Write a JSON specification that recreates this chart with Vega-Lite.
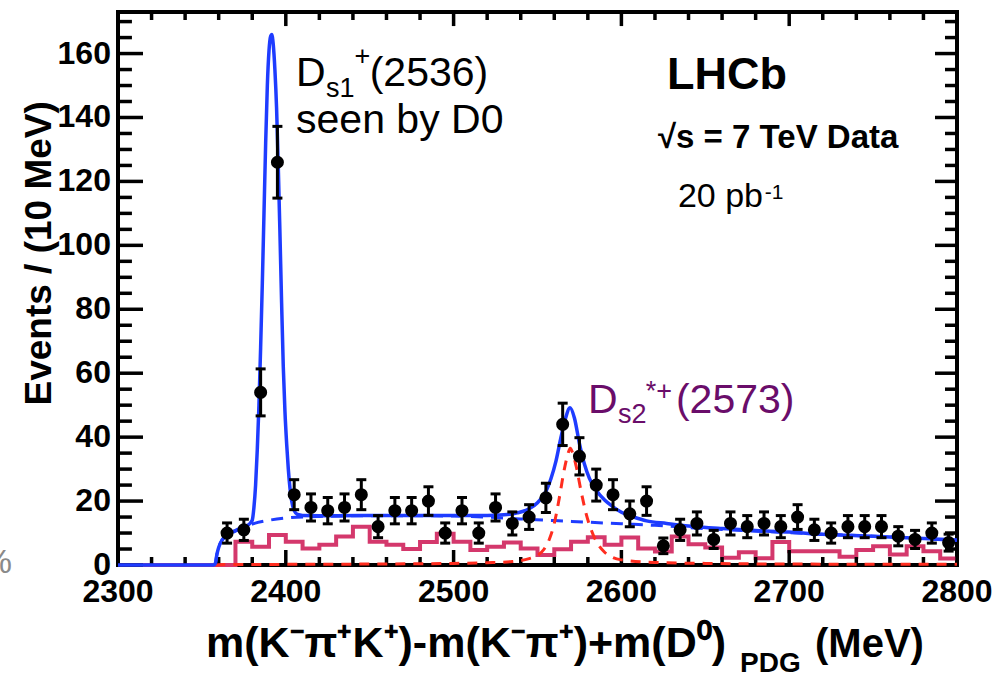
{
  "$schema": "https://vega.github.io/schema/vega-lite/v6.json",
  "width": 839,
  "height": 553,
  "autosize": {"type": "none"},
  "padding": {"left": 118, "top": 12, "right": 50, "bottom": 108},
  "background": "white",
  "config": {
    "view": {"stroke": "black", "strokeWidth": 4},
    "font": "Liberation Sans",
    "text": {"font": "Liberation Sans", "align": "left", "baseline": "alphabetic"}
  },
  "datasets": {
    "xmajor": [{"t": 2300}, {"t": 2400}, {"t": 2500}, {"t": 2600}, {"t": 2700}, {"t": 2800}],
    "xminor": [
      {"t": 2320}, {"t": 2340}, {"t": 2360}, {"t": 2380}, {"t": 2420}, {"t": 2440}, {"t": 2460},
      {"t": 2480}, {"t": 2520}, {"t": 2540}, {"t": 2560}, {"t": 2580}, {"t": 2620}, {"t": 2640},
      {"t": 2660}, {"t": 2680}, {"t": 2720}, {"t": 2740}, {"t": 2760}, {"t": 2780}
    ],
    "ymajor": [{"t": 0}, {"t": 20}, {"t": 40}, {"t": 60}, {"t": 80}, {"t": 100}, {"t": 120}, {"t": 140}, {"t": 160}],
    "yminor": [
      {"t": 5}, {"t": 10}, {"t": 15}, {"t": 25}, {"t": 30}, {"t": 35}, {"t": 45}, {"t": 50}, {"t": 55},
      {"t": 65}, {"t": 70}, {"t": 75}, {"t": 85}, {"t": 90}, {"t": 95}, {"t": 105}, {"t": 110}, {"t": 115},
      {"t": 125}, {"t": 130}, {"t": 135}, {"t": 145}, {"t": 150}, {"t": 155}, {"t": 165}, {"t": 170}
    ],
    "points": [
      {"m": 2365, "n": 10, "lo": 6.84, "hi": 13.16},
      {"m": 2375, "n": 11, "lo": 7.68, "hi": 14.32},
      {"m": 2385, "n": 54, "lo": 46.65, "hi": 61.35},
      {"m": 2395, "n": 126, "lo": 114.78, "hi": 137.22},
      {"m": 2405, "n": 22, "lo": 17.31, "hi": 26.69},
      {"m": 2415, "n": 18, "lo": 13.76, "hi": 22.24},
      {"m": 2425, "n": 17, "lo": 12.88, "hi": 21.12},
      {"m": 2435, "n": 18, "lo": 13.76, "hi": 22.24},
      {"m": 2445, "n": 22, "lo": 17.31, "hi": 26.69},
      {"m": 2455, "n": 12, "lo": 8.54, "hi": 15.46},
      {"m": 2465, "n": 17, "lo": 12.88, "hi": 21.12},
      {"m": 2475, "n": 17, "lo": 12.88, "hi": 21.12},
      {"m": 2485, "n": 20, "lo": 15.53, "hi": 24.47},
      {"m": 2495, "n": 10, "lo": 6.84, "hi": 13.16},
      {"m": 2505, "n": 17, "lo": 12.88, "hi": 21.12},
      {"m": 2515, "n": 10, "lo": 6.84, "hi": 13.16},
      {"m": 2525, "n": 18, "lo": 13.76, "hi": 22.24},
      {"m": 2535, "n": 13, "lo": 9.39, "hi": 16.61},
      {"m": 2545, "n": 15, "lo": 11.13, "hi": 18.87},
      {"m": 2555, "n": 21, "lo": 16.42, "hi": 25.58},
      {"m": 2565, "n": 44, "lo": 37.37, "hi": 50.63},
      {"m": 2575, "n": 34, "lo": 28.17, "hi": 39.83},
      {"m": 2585, "n": 25, "lo": 20.0, "hi": 30.0},
      {"m": 2595, "n": 22, "lo": 17.31, "hi": 26.69},
      {"m": 2605, "n": 16, "lo": 12.0, "hi": 20.0},
      {"m": 2615, "n": 20, "lo": 15.53, "hi": 24.47},
      {"m": 2625, "n": 6, "lo": 3.55, "hi": 8.45},
      {"m": 2635, "n": 11, "lo": 7.68, "hi": 14.32},
      {"m": 2645, "n": 13, "lo": 9.39, "hi": 16.61},
      {"m": 2655, "n": 8, "lo": 5.17, "hi": 10.83},
      {"m": 2665, "n": 13, "lo": 9.39, "hi": 16.61},
      {"m": 2675, "n": 12, "lo": 8.54, "hi": 15.46},
      {"m": 2685, "n": 13, "lo": 9.39, "hi": 16.61},
      {"m": 2695, "n": 12, "lo": 8.54, "hi": 15.46},
      {"m": 2705, "n": 15, "lo": 11.13, "hi": 18.87},
      {"m": 2715, "n": 11, "lo": 7.68, "hi": 14.32},
      {"m": 2725, "n": 10, "lo": 6.84, "hi": 13.16},
      {"m": 2735, "n": 12, "lo": 8.54, "hi": 15.46},
      {"m": 2745, "n": 12, "lo": 8.54, "hi": 15.46},
      {"m": 2755, "n": 12, "lo": 8.54, "hi": 15.46},
      {"m": 2765, "n": 9, "lo": 6.0, "hi": 12.0},
      {"m": 2775, "n": 8, "lo": 5.17, "hi": 10.83},
      {"m": 2785, "n": 10, "lo": 6.84, "hi": 13.16},
      {"m": 2795, "n": 7, "lo": 4.35, "hi": 9.65}
    ],
    "hist": [
      {"m": 2300, "v": 0}, {"m": 2310, "v": 0}, {"m": 2320, "v": 0}, {"m": 2330, "v": 0},
      {"m": 2340, "v": 0}, {"m": 2350, "v": 0}, {"m": 2360, "v": 0}, {"m": 2370, "v": 7.3},
      {"m": 2380, "v": 5.7}, {"m": 2390, "v": 9.4}, {"m": 2400, "v": 7.3}, {"m": 2410, "v": 5.2},
      {"m": 2420, "v": 6.3}, {"m": 2430, "v": 8.9}, {"m": 2440, "v": 12}, {"m": 2450, "v": 7.3},
      {"m": 2460, "v": 6.3}, {"m": 2470, "v": 5.0}, {"m": 2480, "v": 7.2}, {"m": 2490, "v": 9.8},
      {"m": 2500, "v": 7.3}, {"m": 2510, "v": 4.7}, {"m": 2520, "v": 5.7}, {"m": 2530, "v": 7.0},
      {"m": 2540, "v": 5.2}, {"m": 2550, "v": 3.1}, {"m": 2560, "v": 4.9}, {"m": 2570, "v": 7.3},
      {"m": 2580, "v": 8.7}, {"m": 2590, "v": 6.3}, {"m": 2600, "v": 8.6}, {"m": 2610, "v": 5.2},
      {"m": 2620, "v": 4.2}, {"m": 2630, "v": 8.9}, {"m": 2640, "v": 6.5}, {"m": 2650, "v": 5.5},
      {"m": 2660, "v": 2.3}, {"m": 2670, "v": 4.0}, {"m": 2680, "v": 2.1}, {"m": 2690, "v": 7.2},
      {"m": 2700, "v": 4.3}, {"m": 2710, "v": 4.3}, {"m": 2720, "v": 4.3}, {"m": 2730, "v": 2.6},
      {"m": 2740, "v": 4.7}, {"m": 2750, "v": 5.9}, {"m": 2760, "v": 3.3}, {"m": 2770, "v": 5.9},
      {"m": 2780, "v": 4.3}, {"m": 2790, "v": 2.0}, {"m": 2800, "v": 2.0}
    ],
    "background": [
      {"m": 2358, "v": 0}, {"m": 2359, "v": 3.5}, {"m": 2360, "v": 5.5}, {"m": 2362, "v": 7.8},
      {"m": 2365, "v": 9.2}, {"m": 2370, "v": 10.6}, {"m": 2375, "v": 11.8}, {"m": 2380, "v": 12.8},
      {"m": 2390, "v": 14.0}, {"m": 2400, "v": 14.7}, {"m": 2420, "v": 15.2}, {"m": 2450, "v": 15.4},
      {"m": 2480, "v": 15.4}, {"m": 2500, "v": 15.3}, {"m": 2520, "v": 15.0}, {"m": 2540, "v": 14.4},
      {"m": 2560, "v": 13.9}, {"m": 2580, "v": 13.4}, {"m": 2600, "v": 12.9}, {"m": 2620, "v": 12.4},
      {"m": 2650, "v": 11.4}, {"m": 2700, "v": 10.1}, {"m": 2750, "v": 9.0}, {"m": 2800, "v": 7.7}
    ],
    "signal": [
      {"m": 2358, "v": 0}, {"m": 2360, "v": 0.1}, {"m": 2400, "v": 0.2}, {"m": 2450, "v": 0.3},
      {"m": 2500, "v": 0.5}, {"m": 2520, "v": 0.7}, {"m": 2535, "v": 1.1}, {"m": 2545, "v": 2},
      {"m": 2550, "v": 3}, {"m": 2554, "v": 5}, {"m": 2557, "v": 8}, {"m": 2560, "v": 13},
      {"m": 2563, "v": 21}, {"m": 2566, "v": 30}, {"m": 2568, "v": 34.5}, {"m": 2569.5, "v": 36.5},
      {"m": 2571, "v": 35}, {"m": 2573, "v": 31}, {"m": 2576, "v": 23}, {"m": 2579, "v": 16},
      {"m": 2582, "v": 11}, {"m": 2586, "v": 6.5}, {"m": 2590, "v": 4}, {"m": 2595, "v": 2.3},
      {"m": 2600, "v": 1.6}, {"m": 2620, "v": 0.8}, {"m": 2650, "v": 0.5}, {"m": 2700, "v": 0.3},
      {"m": 2800, "v": 0.2}
    ],
    "total": [
      {"m": 2300, "v": 0}, {"m": 2357, "v": 0}, {"m": 2358, "v": 0.5}, {"m": 2359, "v": 3.5},
      {"m": 2360, "v": 5.5}, {"m": 2362, "v": 7.8}, {"m": 2365, "v": 9.3}, {"m": 2370, "v": 10.8},
      {"m": 2375, "v": 11.9}, {"m": 2378, "v": 12.7}, {"m": 2380, "v": 14}, {"m": 2381, "v": 18},
      {"m": 2382, "v": 25}, {"m": 2383, "v": 36}, {"m": 2384, "v": 50}, {"m": 2385, "v": 68},
      {"m": 2386, "v": 88}, {"m": 2387, "v": 110}, {"m": 2388, "v": 132}, {"m": 2389, "v": 150},
      {"m": 2390, "v": 161}, {"m": 2391, "v": 165.5}, {"m": 2391.6, "v": 166}, {"m": 2392.5, "v": 163},
      {"m": 2393.5, "v": 155}, {"m": 2394.5, "v": 143}, {"m": 2395.5, "v": 125}, {"m": 2396.5, "v": 104},
      {"m": 2397.5, "v": 82}, {"m": 2398.5, "v": 62}, {"m": 2399.5, "v": 48}, {"m": 2400.5, "v": 38},
      {"m": 2401.5, "v": 30}, {"m": 2402.5, "v": 24}, {"m": 2403.5, "v": 20}, {"m": 2405, "v": 17},
      {"m": 2407, "v": 15.8}, {"m": 2410, "v": 15.5}, {"m": 2430, "v": 15.4}, {"m": 2460, "v": 15.5},
      {"m": 2500, "v": 15.5}, {"m": 2520, "v": 15.5}, {"m": 2530, "v": 15.7}, {"m": 2538, "v": 16.3},
      {"m": 2545, "v": 17.6}, {"m": 2550, "v": 19.5}, {"m": 2555, "v": 23}, {"m": 2558, "v": 27},
      {"m": 2561, "v": 32.5}, {"m": 2564, "v": 40}, {"m": 2566.5, "v": 45.5}, {"m": 2569.4, "v": 49.2},
      {"m": 2572, "v": 46}, {"m": 2575, "v": 38}, {"m": 2578, "v": 31.5}, {"m": 2581, "v": 27},
      {"m": 2585, "v": 23.4}, {"m": 2590, "v": 20.3}, {"m": 2595, "v": 18.2}, {"m": 2600, "v": 16.5},
      {"m": 2607, "v": 15.1}, {"m": 2615, "v": 13.8}, {"m": 2627, "v": 13}, {"m": 2640, "v": 12.2},
      {"m": 2660, "v": 11.4}, {"m": 2680, "v": 10.8}, {"m": 2700, "v": 10.3}, {"m": 2720, "v": 9.6},
      {"m": 2750, "v": 9.0}, {"m": 2780, "v": 8.3}, {"m": 2800, "v": 7.8}
    ]
  },
  "layer": [
    {
      "data": {"name": "hist"},
      "mark": {"type": "line", "interpolate": "step-after", "color": "#d4386c", "strokeWidth": 4},
      "encoding": {
        "x": {"field": "m", "type": "quantitative", "scale": {"domain": [2300, 2800], "nice": false}, "axis": null},
        "y": {"field": "v", "type": "quantitative", "scale": {"domain": [0, 173], "nice": false, "zero": false}, "axis": null}
      }
    },
    {
      "data": {"name": "xmajor"},
      "mark": {"type": "rule", "color": "black", "strokeWidth": 3.5},
      "encoding": {
        "x": {"field": "t", "type": "quantitative", "axis": null},
        "y": {"datum": 0, "type": "quantitative", "axis": null},
        "y2": {"datum": 4.7}
      }
    },
    {
      "data": {"name": "xminor"},
      "mark": {"type": "rule", "color": "black", "strokeWidth": 3.5},
      "encoding": {
        "x": {"field": "t", "type": "quantitative", "axis": null},
        "y": {"datum": 0, "type": "quantitative", "axis": null},
        "y2": {"datum": 2.5}
      }
    },
    {
      "data": {"name": "xmajor"},
      "mark": {"type": "rule", "color": "black", "strokeWidth": 3.5},
      "encoding": {
        "x": {"field": "t", "type": "quantitative", "axis": null},
        "y": {"datum": 173, "type": "quantitative", "axis": null},
        "y2": {"datum": 168.6}
      }
    },
    {
      "data": {"name": "xminor"},
      "mark": {"type": "rule", "color": "black", "strokeWidth": 3.5},
      "encoding": {
        "x": {"field": "t", "type": "quantitative", "axis": null},
        "y": {"datum": 173, "type": "quantitative", "axis": null},
        "y2": {"datum": 170.5}
      }
    },
    {
      "data": {"name": "ymajor"},
      "mark": {"type": "rule", "color": "black", "strokeWidth": 3.5},
      "encoding": {
        "y": {"field": "t", "type": "quantitative", "axis": null},
        "x": {"datum": 2300, "type": "quantitative", "axis": null},
        "x2": {"datum": 2314.9}
      }
    },
    {
      "data": {"name": "yminor"},
      "mark": {"type": "rule", "color": "black", "strokeWidth": 3.5},
      "encoding": {
        "y": {"field": "t", "type": "quantitative", "axis": null},
        "x": {"datum": 2300, "type": "quantitative", "axis": null},
        "x2": {"datum": 2308.3}
      }
    },
    {
      "data": {"name": "ymajor"},
      "mark": {"type": "rule", "color": "black", "strokeWidth": 3.5},
      "encoding": {
        "y": {"field": "t", "type": "quantitative", "axis": null},
        "x": {"datum": 2800, "type": "quantitative", "axis": null},
        "x2": {"datum": 2786.9}
      }
    },
    {
      "data": {"name": "yminor"},
      "mark": {"type": "rule", "color": "black", "strokeWidth": 3.5},
      "encoding": {
        "y": {"field": "t", "type": "quantitative", "axis": null},
        "x": {"datum": 2800, "type": "quantitative", "axis": null},
        "x2": {"datum": 2792.85}
      }
    },
    {
      "data": {"name": "xmajor"},
      "mark": {"type": "text", "fontSize": 32, "fontWeight": "bold", "color": "black", "align": "center", "baseline": "top"},
      "encoding": {
        "x": {"field": "t", "type": "quantitative", "axis": null},
        "y": {"datum": -3.75, "type": "quantitative", "axis": null},
        "text": {"field": "t", "type": "quantitative", "format": "d"}
      }
    },
    {
      "data": {"name": "ymajor"},
      "mark": {"type": "text", "fontSize": 32, "fontWeight": "bold", "color": "black", "align": "right", "baseline": "middle"},
      "encoding": {
        "y": {"field": "t", "type": "quantitative", "axis": null},
        "x": {"datum": 2295.8, "type": "quantitative", "axis": null},
        "text": {"field": "t", "type": "quantitative", "format": "d"}
      }
    },
    {
      "data": {"name": "background"},
      "mark": {"type": "line", "color": "#1e3cff", "strokeWidth": 3, "strokeDash": [12, 8], "interpolate": "monotone"},
      "encoding": {
        "x": {"field": "m", "type": "quantitative", "axis": null},
        "y": {"field": "v", "type": "quantitative", "axis": null}
      }
    },
    {
      "data": {"name": "signal"},
      "mark": {"type": "line", "color": "#ff2d1f", "strokeWidth": 3, "strokeDash": [10, 8], "interpolate": "monotone"},
      "encoding": {
        "x": {"field": "m", "type": "quantitative", "axis": null},
        "y": {"field": "v", "type": "quantitative", "axis": null}
      }
    },
    {
      "data": {"name": "total"},
      "mark": {"type": "line", "color": "#1e3cff", "strokeWidth": 3.5, "interpolate": "monotone"},
      "encoding": {
        "x": {"field": "m", "type": "quantitative", "axis": null},
        "y": {"field": "v", "type": "quantitative", "axis": null}
      }
    },
    {
      "data": {"name": "points"},
      "mark": {"type": "rule", "color": "black", "strokeWidth": 3, "opacity": 1},
      "encoding": {
        "x": {"field": "m", "type": "quantitative", "axis": null},
        "y": {"field": "lo", "type": "quantitative", "axis": null},
        "y2": {"field": "hi"}
      }
    },
    {
      "data": {"name": "points"},
      "mark": {"type": "tick", "orient": "horizontal", "color": "black", "size": 10, "thickness": 3, "opacity": 1},
      "encoding": {
        "x": {"field": "m", "type": "quantitative", "axis": null},
        "y": {"field": "lo", "type": "quantitative", "axis": null}
      }
    },
    {
      "data": {"name": "points"},
      "mark": {"type": "tick", "orient": "horizontal", "color": "black", "size": 10, "thickness": 3, "opacity": 1},
      "encoding": {
        "x": {"field": "m", "type": "quantitative", "axis": null},
        "y": {"field": "hi", "type": "quantitative", "axis": null}
      }
    },
    {
      "data": {"name": "points"},
      "mark": {"type": "point", "shape": "circle", "filled": true, "color": "black", "size": 170, "opacity": 1},
      "encoding": {
        "x": {"field": "m", "type": "quantitative", "axis": null},
        "y": {"field": "n", "type": "quantitative", "axis": null}
      }
    },
    {
      "data": {"values": [{}]},
      "mark": {"type": "text", "fontSize": 41, "color": "black"},
      "encoding": {"x": {"datum": 2406.1, "type": "quantitative", "axis": null}, "y": {"datum": 150, "type": "quantitative", "axis": null}, "text": {"value": "D"}}
    },
    {
      "data": {"values": [{}]},
      "mark": {"type": "text", "fontSize": 27, "color": "black"},
      "encoding": {"x": {"datum": 2424, "type": "quantitative", "axis": null}, "y": {"datum": 146.3, "type": "quantitative", "axis": null}, "text": {"value": "s1"}}
    },
    {
      "data": {"values": [{}]},
      "mark": {"type": "text", "fontSize": 27, "color": "black"},
      "encoding": {"x": {"datum": 2441, "type": "quantitative", "axis": null}, "y": {"datum": 156.3, "type": "quantitative", "axis": null}, "text": {"value": "+"}}
    },
    {
      "data": {"values": [{}]},
      "mark": {"type": "text", "fontSize": 41, "color": "black"},
      "encoding": {"x": {"datum": 2450, "type": "quantitative", "axis": null}, "y": {"datum": 150, "type": "quantitative", "axis": null}, "text": {"value": "(2536)"}}
    },
    {
      "data": {"values": [{}]},
      "mark": {"type": "text", "fontSize": 41, "color": "black"},
      "encoding": {"x": {"datum": 2406.1, "type": "quantitative", "axis": null}, "y": {"datum": 135, "type": "quantitative", "axis": null}, "text": {"value": "seen by D0"}}
    },
    {
      "data": {"values": [{}]},
      "mark": {"type": "text", "fontSize": 45, "fontWeight": "bold", "color": "black"},
      "encoding": {"x": {"datum": 2627.2, "type": "quantitative", "axis": null}, "y": {"datum": 149, "type": "quantitative", "axis": null}, "text": {"value": "LHCb"}}
    },
    {
      "data": {"values": [{}]},
      "mark": {"type": "text", "fontSize": 33, "fontWeight": "bold", "color": "black"},
      "encoding": {"x": {"datum": 2621.8, "type": "quantitative", "axis": null}, "y": {"datum": 130.6, "type": "quantitative", "axis": null}, "text": {"value": "√s = 7 TeV Data"}}
    },
    {
      "data": {"values": [{}]},
      "mark": {"type": "text", "fontSize": 34, "color": "black"},
      "encoding": {"x": {"datum": 2633.7, "type": "quantitative", "axis": null}, "y": {"datum": 112, "type": "quantitative", "axis": null}, "text": {"value": "20 pb"}}
    },
    {
      "data": {"values": [{}]},
      "mark": {"type": "text", "fontSize": 21, "color": "black"},
      "encoding": {"x": {"datum": 2685.5, "type": "quantitative", "axis": null}, "y": {"datum": 114.5, "type": "quantitative", "axis": null}, "text": {"value": "-1"}}
    },
    {
      "data": {"values": [{}]},
      "mark": {"type": "text", "fontSize": 41, "color": "#6a0d6a"},
      "encoding": {"x": {"datum": 2580.1, "type": "quantitative", "axis": null}, "y": {"datum": 47.5, "type": "quantitative", "axis": null}, "text": {"value": "D"}}
    },
    {
      "data": {"values": [{}]},
      "mark": {"type": "text", "fontSize": 27, "color": "#6a0d6a"},
      "encoding": {"x": {"datum": 2598, "type": "quantitative", "axis": null}, "y": {"datum": 44.4, "type": "quantitative", "axis": null}, "text": {"value": "s2"}}
    },
    {
      "data": {"values": [{}]},
      "mark": {"type": "text", "fontSize": 27, "color": "#6a0d6a"},
      "encoding": {"x": {"datum": 2614.5, "type": "quantitative", "axis": null}, "y": {"datum": 51.6, "type": "quantitative", "axis": null}, "text": {"value": "*+"}}
    },
    {
      "data": {"values": [{}]},
      "mark": {"type": "text", "fontSize": 41, "color": "#6a0d6a"},
      "encoding": {"x": {"datum": 2632.5, "type": "quantitative", "axis": null}, "y": {"datum": 47.5, "type": "quantitative", "axis": null}, "text": {"value": "(2573)"}}
    },
    {
      "data": {"values": [{}]},
      "mark": {"type": "text", "fontSize": 43, "fontWeight": "bold", "color": "black"},
      "encoding": {"x": {"datum": 2352.4, "type": "quantitative", "axis": null}, "y": {"datum": -28.75, "type": "quantitative", "axis": null}, "text": {"value": "m(K⁻π⁺K⁺)-m(K⁻π⁺)+m(D⁰)"}}
    },
    {
      "data": {"values": [{}]},
      "mark": {"type": "text", "fontSize": 28, "fontWeight": "bold", "color": "black"},
      "encoding": {"x": {"datum": 2670.7, "type": "quantitative", "axis": null}, "y": {"datum": -33.5, "type": "quantitative", "axis": null}, "text": {"value": "PDG"}}
    },
    {
      "data": {"values": [{}]},
      "mark": {"type": "text", "fontSize": 40, "fontWeight": "bold", "color": "black"},
      "encoding": {"x": {"datum": 2715.4, "type": "quantitative", "axis": null}, "y": {"datum": -28.75, "type": "quantitative", "axis": null}, "text": {"value": "(MeV)"}}
    },
    {
      "data": {"values": [{}]},
      "mark": {"type": "text", "fontSize": 37, "fontWeight": "bold", "color": "black", "angle": 270, "align": "center", "baseline": "middle"},
      "encoding": {"x": {"datum": 2253.5, "type": "quantitative", "axis": null}, "y": {"datum": 97.5, "type": "quantitative", "axis": null}, "text": {"value": "Events / (10 MeV)"}}
    },
    {
      "data": {"values": [{}]},
      "mark": {"type": "text", "fontSize": 34, "color": "#8a8a8a", "align": "right"},
      "encoding": {"x": {"datum": 2236.8, "type": "quantitative", "axis": null}, "y": {"datum": -2.5, "type": "quantitative", "axis": null}, "text": {"value": "%"}}
    }
  ]
}
